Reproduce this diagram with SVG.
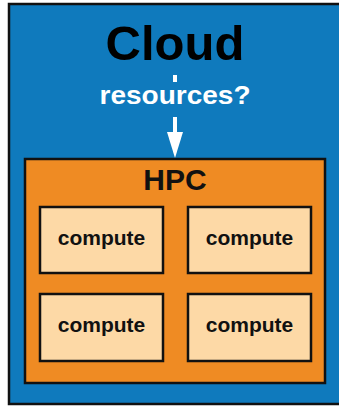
<svg xmlns="http://www.w3.org/2000/svg" width="339" height="407" viewBox="0 0 339 407">
  <style>
    .frame { stroke: #111; stroke-width: 2.5; }
    .cloud { fill: #0f7abd; }
    .hpc { fill: #ef8b23; }
    .node { fill: #fdd9a6; }
    .lbl { font-family: "Liberation Sans", Arial, sans-serif; font-weight: bold; text-anchor: middle; }
    .compute { font-size: 21px; fill: #111; }
    .flow { stroke: #fff; stroke-width: 4; }
  </style>
  <rect width="339" height="407" fill="#fff"/>

  <g id="cloud">
    <rect class="cloud frame" x="9" y="4" width="340" height="400"/>
    <text class="lbl" x="175" y="60" font-size="49" fill="#000">Cloud</text>
  </g>

  <!-- request arrow from the cloud down into the HPC box, broken by its label -->
  <g id="connectors">
    <line class="flow" x1="175" y1="75" x2="175" y2="82"/>
    <line class="flow" x1="175" y1="117" x2="175" y2="134"/>
    <path d="M167,132 L183,132 L175,158 Z" fill="#fff"/>
    <text class="lbl" x="175" y="104" font-size="25" fill="#fff" textLength="151" lengthAdjust="spacingAndGlyphs">resources?</text>
  </g>

  <g id="hpc">
    <rect class="hpc frame" x="25" y="159" width="300" height="224"/>
    <text class="lbl" x="175" y="190" font-size="30" fill="#111">HPC</text>
  </g>

  <g id="compute-1">
    <rect class="node frame" x="40" y="207" width="123" height="66"/>
    <text class="lbl compute" x="101.5" y="245">compute</text>
  </g>
  <g id="compute-2">
    <rect class="node frame" x="188" y="207" width="123" height="66"/>
    <text class="lbl compute" x="249.5" y="245">compute</text>
  </g>
  <g id="compute-3">
    <rect class="node frame" x="40" y="294" width="123" height="67"/>
    <text class="lbl compute" x="101.5" y="332">compute</text>
  </g>
  <g id="compute-4">
    <rect class="node frame" x="188" y="294" width="123" height="67"/>
    <text class="lbl compute" x="249.5" y="332">compute</text>
  </g>
</svg>
